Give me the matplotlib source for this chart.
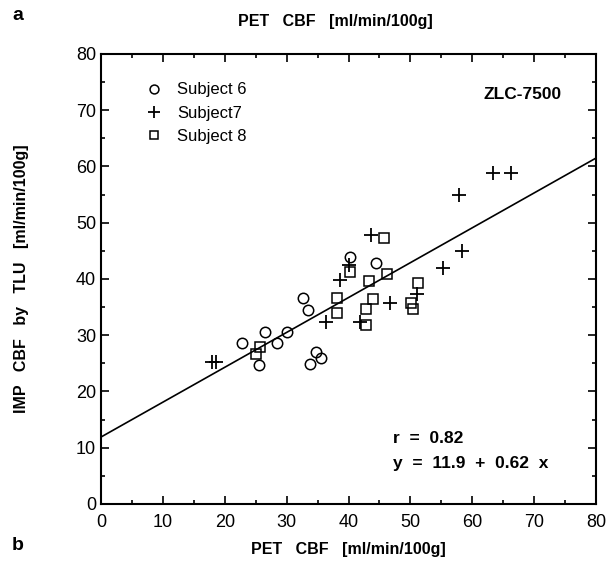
import matplotlib.pyplot as plt
import numpy as np
from matplotlib.ticker import MultipleLocator

plt.rcParams['font.family'] = ['Liberation Sans', 'DejaVu Sans']

# Subject 6 (circles)
s6_x = [22.8, 26.5, 25.6, 28.5, 30.1, 32.7, 33.5, 34.8, 35.5, 33.8, 40.2, 44.4]
s6_y = [28.7, 30.5, 24.7, 28.7, 30.6, 36.7, 34.4, 27.0, 26.0, 24.9, 43.9, 42.9]

# Subject 7 (plus)
s7_x = [17.9, 18.6, 36.3, 38.6, 40.0, 41.8, 43.7, 46.7, 51.0, 55.3, 58.4, 57.9, 63.3, 66.2]
s7_y = [25.3, 25.3, 32.4, 39.8, 42.4, 32.4, 47.8, 35.8, 37.3, 41.9, 45.0, 54.9, 58.9, 58.9]

# Subject 8 (squares)
s8_x = [25.7, 25.0, 45.7, 40.3, 46.2, 43.3, 38.2, 38.2, 43.9, 42.9, 42.9, 51.3, 50.1, 50.4]
s8_y = [27.9, 26.7, 47.3, 41.3, 40.9, 39.7, 36.7, 33.9, 36.4, 34.6, 31.8, 39.2, 35.8, 34.7]

# regression
intercept = 11.9
slope = 0.62
r_value = 0.82

fig = plt.figure(figsize=(6.09, 5.75), dpi=100)
ax = fig.add_axes([0.1658, 0.1235, 0.8129, 0.7826])

ax.plot(s6_x, s6_y, 'o', mfc='none', mec='black', ms=7.5, mew=1.1, label='Subject 6')
ax.plot(s7_x, s7_y, '+', color='black', ms=10, mew=1.3, label='Subject7')
ax.plot(s8_x, s8_y, 's', mfc='none', mec='black', ms=7.5, mew=1.1, label='Subject 8')

xl = np.array([0, 80])
ax.plot(xl, intercept + slope * xl, color='black', lw=1.2)

ax.set_xlim(0, 80)
ax.set_ylim(0, 80)
ax.xaxis.set_major_locator(MultipleLocator(10))
ax.yaxis.set_major_locator(MultipleLocator(10))
ax.xaxis.set_minor_locator(MultipleLocator(5))
ax.yaxis.set_minor_locator(MultipleLocator(5))
ax.tick_params(which='both', direction='in', top=True, right=True, width=1.2)
ax.tick_params(which='major', length=6, labelsize=13)
ax.tick_params(which='minor', length=3)
ax.tick_params(axis='x', pad=7)
for s in ax.spines.values():
    s.set_linewidth(1.5)

ax.set_xlabel('PET   CBF   [ml/min/100g]', fontsize=11.5, fontweight='bold', labelpad=8)
ax.set_ylabel('IMP   CBF   by   TLU   [ml/min/100g]', fontsize=11.5, fontweight='bold', labelpad=34)

fig.text(0.55, 0.962, 'PET   CBF   [ml/min/100g]', fontsize=11.5, fontweight='bold',
         ha='center', va='center')
fig.text(0.02, 0.973, 'a', fontsize=14, fontweight='bold', va='center')
fig.text(0.02, 0.052, 'b', fontsize=14, fontweight='bold', va='center')

leg = ax.legend(loc='upper left', bbox_to_anchor=(0.06, 0.97), frameon=False,
                fontsize=12, handletextpad=0.9, labelspacing=0.5, handlelength=1.0,
                markerscale=0.85)

ax.text(0.93, 0.91, 'ZLC-7500', transform=ax.transAxes, fontsize=12.5,
        fontweight='bold', ha='right', va='center')
ax.text(0.59, 0.145, 'r  =  0.82', transform=ax.transAxes, fontsize=12.5,
        fontweight='bold', ha='left', va='center')
ax.text(0.59, 0.09, 'y  =  11.9  +  0.62  x', transform=ax.transAxes, fontsize=12.5,
        fontweight='bold', ha='left', va='center')

fig.savefig('out.png', dpi=100)
